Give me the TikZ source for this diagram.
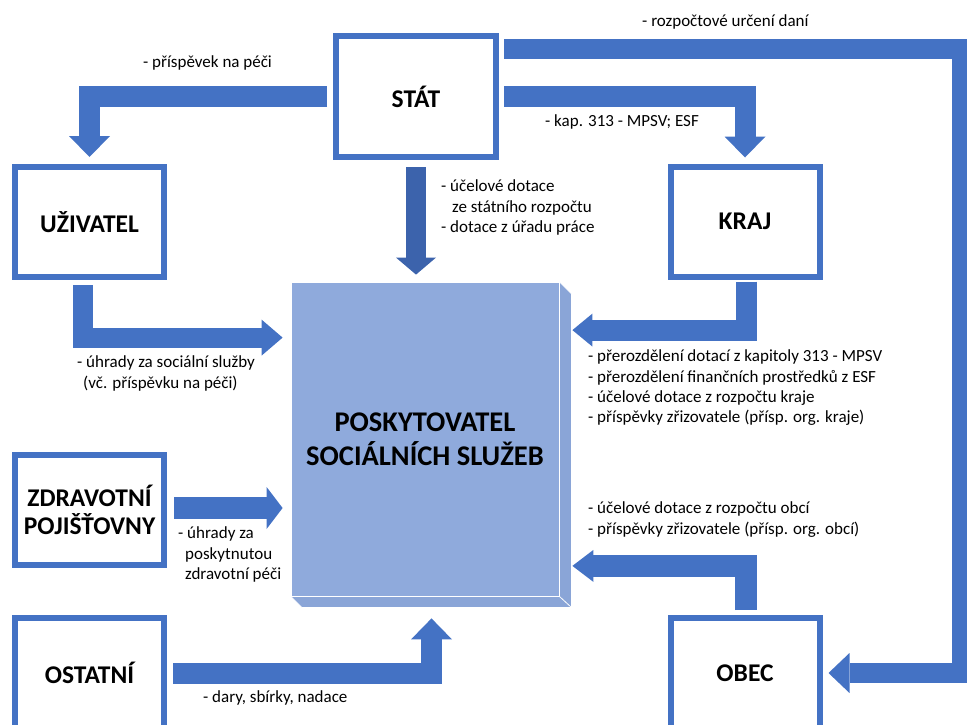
\documentclass[tikz,border=0pt]{standalone}
\usepackage{fontspec}
\setmainfont{Carlito}
\usetikzlibrary{arrows.meta, calc}

\definecolor{boxblue}{RGB}{68,114,196}
\definecolor{darkblue}{RGB}{60,99,172}
\definecolor{provfront}{RGB}{143,170,220}
\definecolor{provside}{RGB}{138,165,215}

\begin{document}
\begin{tikzpicture}[x=1pt, y=-1pt,
    entity/.style={draw=boxblue, line width=6pt, fill=white, minimum width=149pt, minimum height=110pt,
        align=center, font=\fontsize{25.5}{28}\selectfont\bfseries},
    note/.style={anchor=north west, inner sep=0pt, align=left, font=\fontsize{17}{20.3}\selectfont},
    flow/.style={boxblue, line width=21pt, -{Triangle[width=41pt, length=21pt, line width=0pt]}}]

            \useasboundingbox (0,0) rectangle (967,725);
            \clip (0,0) rectangle (967,725);

            % Draw the boxes
            \node[entity, minimum width=160pt, minimum height=121pt] (stat) at (416,96.5) {STÁT};
            \node[entity] (uziv) at (89.5,222) {UŽIVATEL};
            \node[entity] (kraj) at (745,221.5) {KRAJ};
            \node[entity] (zdrav) at (89.5,510) {ZDRAVOTNÍ\\POJIŠŤOVNY};
            \node[entity] (ostatni) at (89.5,673) {OSTATNÍ};
            \node[entity] (obec) at (745,673) {OBEC};

            % Draw the provider block with its bevel
            \node[draw=white, line width=0.8pt, fill=provfront, minimum width=268pt, minimum height=314pt,
                align=center, font=\fontsize{28.5}{34}\selectfont\bfseries] (prov) at (425,439) {POSKYTOVATEL\\SOCIÁLNÍCH SLUŽEB};
            \filldraw[provside, draw=white, line width=0.8pt] (prov.north east) -- ++(12,12) -- ($(prov.south east)+(12,11)$)
                -- ($(prov.south west)+(11,11)$) -- (prov.south west) -- (prov.south east) -- cycle;
            \draw[white, line width=0.8pt] (prov.south east) -- ++(12,11);

            \coordinate (dane) at (962,49.5);

            % Draw the money flows
            \draw[flow] ([xshift=-6pt]stat.west) -| ([yshift=7pt]uziv.north);
            \draw[flow] ([xshift=5pt]stat.east) -| ([yshift=6pt]kraj.north);
            \draw[flow, line width=20pt, -{Triangle[width=40pt, length=21pt, line width=0pt]}]
                ($(stat.east |- dane)+(5,0)$) -- (dane) |- ([xshift=6pt]obec.east);
            \draw[flow, darkblue, line width=20pt, -{Triangle[width=40pt, length=17pt, line width=0pt]}]
                ([yshift=-7pt]stat.south) -- ($(stat.south |- prov.north)+(0,-7)$);
            \draw[flow, line width=20pt, -{Triangle[width=36pt, length=21pt, line width=0pt]}]
                ($(uziv.south)+(-6.5,5)$) |- ($(prov.north west)+(-8,56)$);
            \draw[flow, -{Triangle[width=33pt, length=20pt, line width=0pt]}]
                ($(kraj.south)+(1.5,2)$) |- ($(prov.north east)+(13,48.5)$);
            \draw[flow, line width=22pt, -{Triangle[width=32pt, length=21pt, line width=0pt]}]
                ($(obec.north)+(0.5,-5)$) |- ($(prov.south east)+(13,-30.5)$);
            \draw[flow, line width=22pt, -{Triangle[width=42pt, length=16pt, line width=0pt]}]
                ($(zdrav.east)+(7,-2)$) -- ($(prov.west |- zdrav.east)+(-8,-2)$);
            \draw[flow] ([xshift=6pt]ostatni.east) -| ($(prov.south)+(6.5,22)$);

            % Draw the labels
            \node[note] (pece) at (143,53.5) {\strut - příspěvek na péči};
            \node[note] (rud) at (642,12.5) {\strut - rozpočtové určení daní};
            \node[note] (kap) at (545,112.5) {\strut - kap. 313 - MPSV; ESF};
            \node[note] (dotace) at (441,177.5) {\strut - účelové dotace\\\hspace*{11pt}ze státního rozpočtu\\- dotace z úřadu práce};
            \node[note] (uhrady) at (77,353.5) {\strut - úhrady za sociální služby\\\hspace*{6pt}(vč. příspěvku na péči)};
            \node[note] (krajlist) at (588,347.5) {\strut - přerozdělení dotací z kapitoly 313 - MPSV\\- přerozdělení finančních prostředků z ESF\\- účelové dotace z rozpočtu kraje\\- příspěvky zřizovatele (přísp. org. kraje)};
            \node[note] (obeclist) at (588,499.5) {\strut - účelové dotace z rozpočtu obcí\\- příspěvky zřizovatele (přísp. org. obcí)};
            \node[note] (zdravlist) at (178,524.5) {\strut - úhrady za\\\hspace*{7pt}poskytnutou\\\hspace*{7pt}zdravotní péči};
            \node[note] (dary) at (203,688.5) {\strut - dary, sbírky, nadace};

        \end{tikzpicture}
\end{document}
